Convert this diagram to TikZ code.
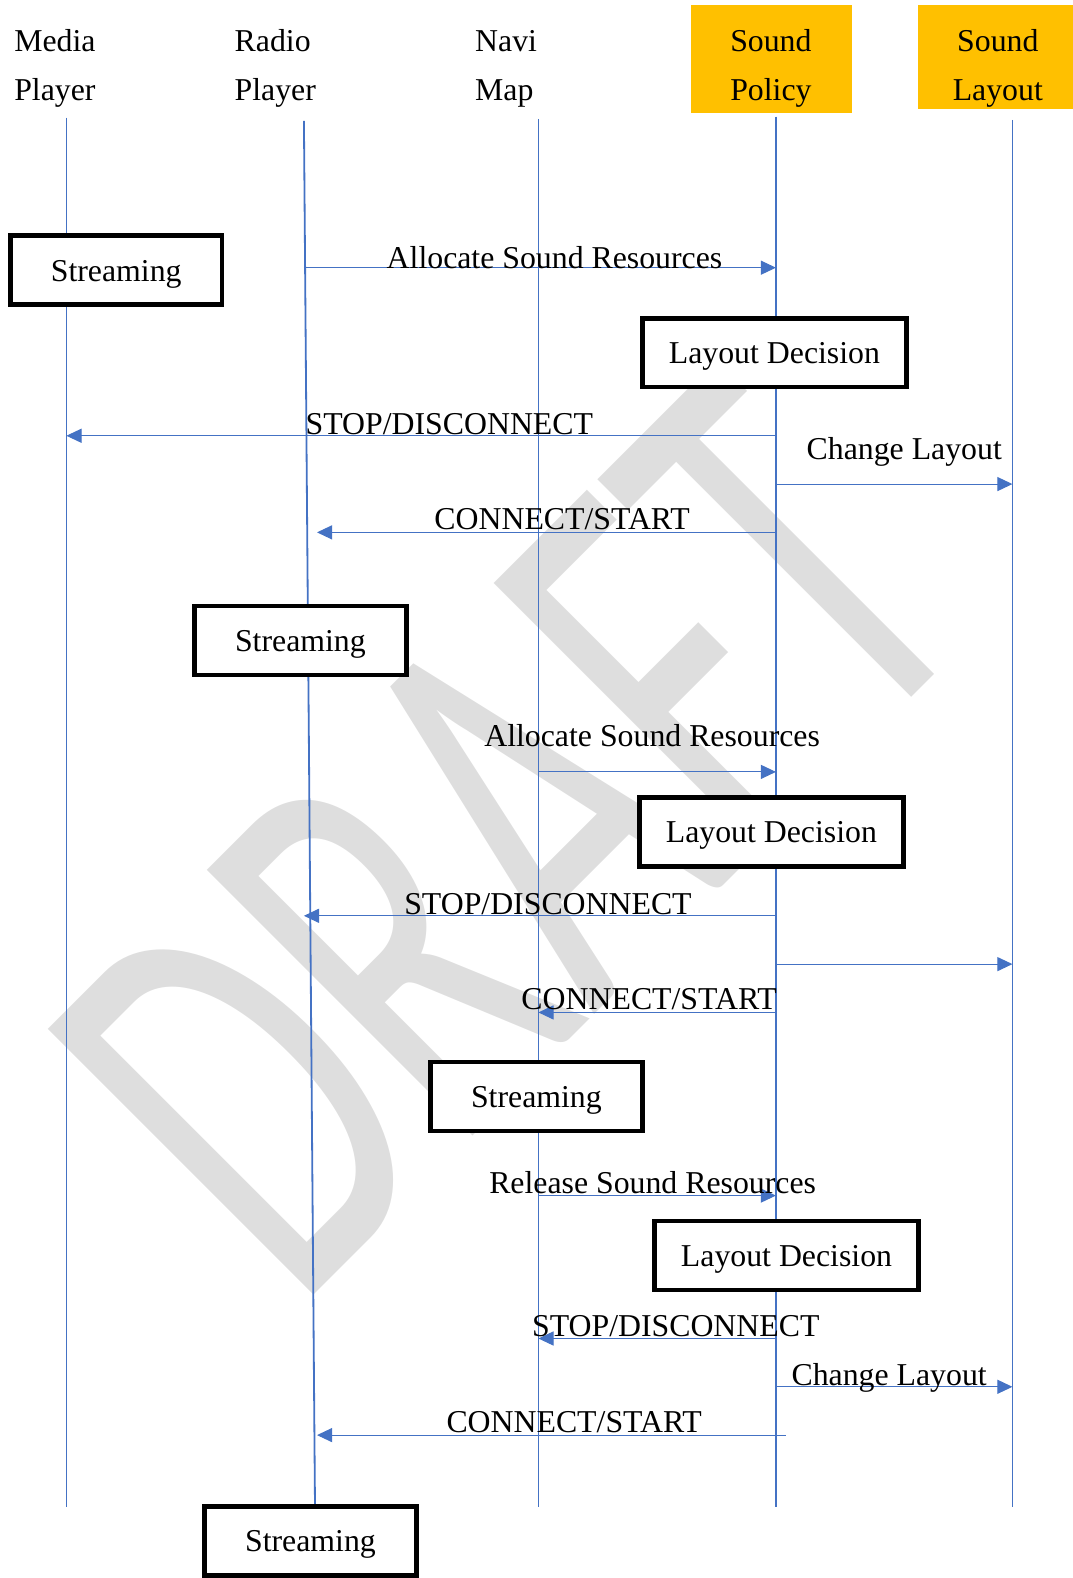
\documentclass[tikz,border=0pt]{standalone}
\usepackage{fontspec}
\setmainfont{Liberation Serif}
\newfontfamily\draftfont{Carlito}
\usetikzlibrary{arrows.meta}
\definecolor{LineBlue}{HTML}{4472C4}
\definecolor{HeadYellow}{HTML}{FFC000}
\definecolor{DraftGray}{HTML}{DEDEDE}

\begin{document}
\begin{tikzpicture}[
    x=1pt, y=-1pt,
    every node/.style={font=\fontsize{31.6}{49}\selectfont},
    head/.style={align=left, anchor=base west, inner sep=0pt},
    headbox/.style={fill=HeadYellow, minimum width=160pt, minimum height=107pt, inner sep=0pt},
    box/.style={draw=black, line width=4.5pt, fill=white, minimum height=68.5pt, inner sep=0pt, text height=21.6pt, text depth=0pt},
    lifeline/.style={draw=LineBlue, line width=1.8pt},
    msg/.style={draw=LineBlue, line width=1pt, -{Triangle[length=15pt,width=14pt]}},
    lbl/.style={anchor=base, inner sep=0pt},
    draft/.style={rotate=45, inner sep=0pt, text=DraftGray, font=\draftfont\fontsize{582}{582}\selectfont}
  ]
    \useasboundingbox (0,0) rectangle (1066,1568);

    % watermark
    \node[draft] (wm) at (505,830) {\scalebox{0.62}[1]{DRAFT}};

    % headers
    \node[head] (mpH) at (14,100) {Media\\Player};
    \node[head] (rpH) at (233,100) {Radio\\Player};
    \node[head] (nmH) at (472,100) {Navi\\Map};
    \node[headbox] (spBox) at (766.5,58.5) {};
    \node[headbox, minimum width=154pt, minimum height=103pt] (slBox) at (989,56.5) {};
    \node[head, align=center, anchor=base] (spH) at (766,100) {Sound\\Policy};
    \node[head, align=center, anchor=base] (slH) at (991.5,100) {Sound\\Layout};

    % lifelines
    \coordinate (mpT) at (66,117);   \coordinate (mpB) at (66,1497);
    \coordinate (rpT) at (302,120);  \coordinate (rpB) at (313,1497);
    \coordinate (nmT) at (535,118);  \coordinate (nmB) at (535,1497);
    \coordinate (spT) at (771,116);  \coordinate (spB) at (771,1497);
    \coordinate (slT) at (1006,119); \coordinate (slB) at (1006,1497);
    \foreach \ll in {mp,rp,nm,sp,sl}
      \draw[lifeline] (\ll T) -- (\ll B);

    % messages
    \draw[msg] (rpT |- 0,266) -- (spT |- 0,266);
    \draw[msg] (spT |- 0,433) -- (mpT |- 0,433);
    \draw[msg] (spT |- 0,481) -- (slT |- 0,481);
    \draw[msg, shorten >=13pt] (spT |- 0,529) -- (rpT |- 0,529);
    \draw[msg] (nmT |- 0,767) -- (spT |- 0,767);
    \draw[msg] (spT |- 0,910) -- (rpT |- 0,910);
    \draw[msg] (spT |- 0,958) -- (slT |- 0,958);
    \draw[msg] (spT |- 0,1006) -- (nmT |- 0,1006);
    \draw[msg] (nmT |- 0,1188) -- (spT |- 0,1188);
    \draw[msg] (spT |- 0,1330) -- (nmT |- 0,1330);
    \draw[msg] (spT |- 0,1378) -- (slT |- 0,1378);
    \draw[msg, shorten <=-10pt, shorten >=13pt] (spT |- 0,1426) -- (rpT |- 0,1426);

    % activity boxes
    \node[box, minimum width=210.5pt] (str1) at (115.5,268.5) {Streaming};
    \node[box, minimum width=262.5pt] (ld1) at (769.5,350.5) {Layout Decision};
    \node[box, minimum width=210.5pt] (str2) at (298.5,636.5) {Streaming};
    \node[box, minimum width=262.5pt] (ld2) at (766.5,826.5) {Layout Decision};
    \node[box, minimum width=210.5pt] (str3) at (533,1089.5) {Streaming};
    \node[box, minimum width=262.5pt] (ld3) at (781.5,1247.5) {Layout Decision};
    \node[box, minimum width=210.5pt] (str4) at (308.5,1531) {Streaming};

    % message labels
    \node[lbl] (m1) at (551,266.5) {Allocate Sound Resources};
    \node[lbl] (m2) at (446.5,431.5) {STOP/DISCONNECT};
    \node[lbl] (m3) at (898.5,457) {Change Layout};
    \node[lbl] (m4) at (558.5,526.5) {CONNECT/START};
    \node[lbl] (m5) at (648,741.5) {Allocate Sound Resources};
    \node[lbl] (m6) at (544.5,908.5) {STOP/DISCONNECT};
    \node[lbl] (m8) at (645,1003.5) {CONNECT/START};
    \node[lbl] (m9) at (648.5,1185.5) {Release Sound Resources};
    \node[lbl] (m10) at (671.5,1328.5) {STOP/DISCONNECT};
    \node[lbl] (m11) at (883.5,1376.5) {Change Layout};
    \node[lbl] (m12) at (570.5,1423.5) {CONNECT/START};
\end{tikzpicture}
\end{document}
